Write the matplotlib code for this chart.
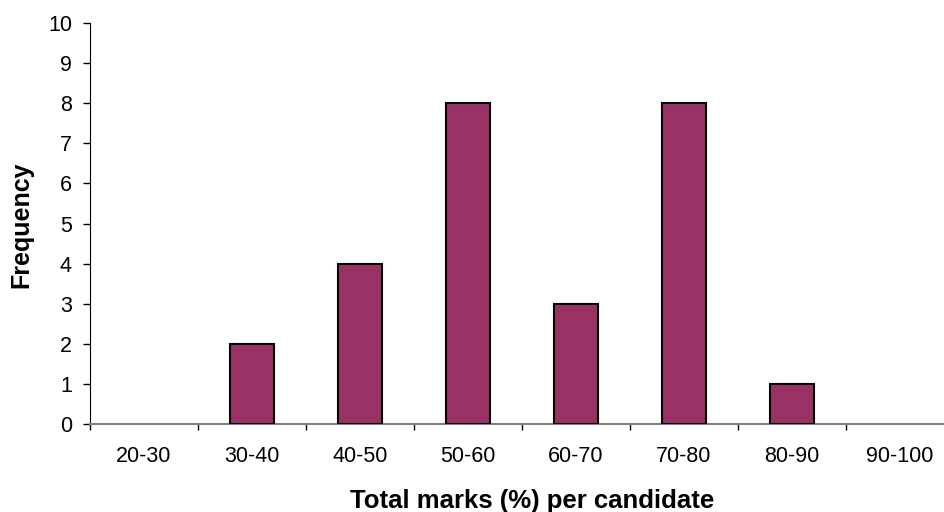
import matplotlib
matplotlib.use("Agg")
import matplotlib.pyplot as plt
import numpy as np

plt.rcParams['font.family'] = ['Liberation Sans', 'DejaVu Sans']

categories = ["20-30", "30-40", "40-50", "50-60", "60-70", "70-80", "80-90", "90-100"]
frequency = [0, 2, 4, 8, 3, 8, 1, 0]
yticks = list(range(0, 11))

fig = plt.figure(figsize=(9.45, 5.12), dpi=100)
ax = fig.add_axes([90/945, 88/512, 864/945, 401/512])

x = np.arange(len(categories))
bars = ax.bar(x, frequency, width=0.41, color="#993366", edgecolor="black", linewidth=1.5, zorder=3)
for b in bars:
    if b.get_height() == 0:
        b.set_visible(False)

ax.set_xlim(-0.5, len(categories) - 0.5)
ax.set_ylim(0, 10)
ax.set_yticks(yticks)
ax.set_yticklabels([str(v) for v in yticks], fontsize=15.5)
ax.tick_params(axis='y', direction='out', length=5, width=1, pad=8, color='black')

ax.set_xticks(x)
ax.set_xticklabels(categories, fontsize=15.5)
ax.tick_params(axis='x', which='major', length=0, pad=16)
ax.set_xticks(np.arange(len(categories) + 1) - 0.5, minor=True)
ax.tick_params(axis='x', which='minor', direction='out', length=4.5, width=1, color='black')

for s in ['top', 'right']:
    ax.spines[s].set_visible(False)
ax.spines['left'].set_color('black')
ax.spines['bottom'].set_color('#808080')
ax.spines['bottom'].set_linewidth(1.5)

ax.set_ylabel("Frequency", fontsize=18, fontweight='bold')
ax.yaxis.set_label_coords((33-90)/864, (512-225-88)/401)
ax.set_xlabel("Total marks (%) per candidate", fontsize=18.5, fontweight='bold')
ax.xaxis.set_label_coords((532-90)/864, -65/401)

fig.savefig("out.png", dpi=100)
